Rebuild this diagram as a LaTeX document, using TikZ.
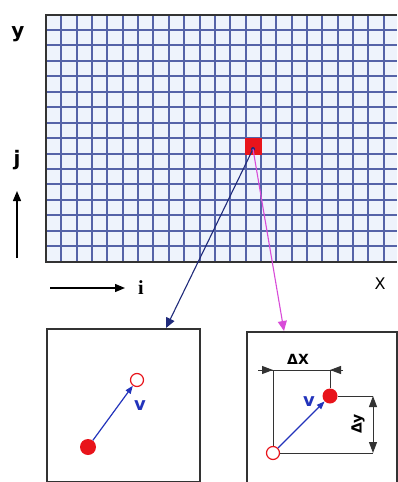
\documentclass[tikz,border=0pt]{standalone}
\usepackage{fontspec}
\setmainfont{DejaVu Sans}
\newfontfamily\serifb{Liberation Serif}
\usetikzlibrary{arrows.meta}
\definecolor{gridline}{HTML}{5563A8}
\definecolor{cellbg}{HTML}{EEF3FC}
\definecolor{frame}{HTML}{333333}
\definecolor{navy}{HTML}{1F2A7A}
\definecolor{mag}{HTML}{D84BD8}
\definecolor{vblue}{HTML}{2233BB}
\definecolor{dotred}{HTML}{E8141B}
\begin{document}
\begin{tikzpicture}[x=1pt,y=-1pt,
  gl/.style={gridline, line width=1.8},
  boxframe/.style={draw=frame, line width=1.5, inner sep=0, anchor=north west},
  fulldot/.style={circle, fill=dotred, inner sep=0, minimum size=15},
  opendot/.style={circle, draw=dotred, fill=white, line width=1.2, inner sep=0, minimum size=13},
  vec/.style={vblue, line width=1.2, -{Triangle[length=8,width=6]}},
  dim/.style={frame, line width=1},
  dimtip/.style={-{Triangle[length=11,width=8]}},
  axislbl/.style={font=\bfseries\fontsize{20}{20}\selectfont, inner sep=0},
  vlbl/.style={text=vblue, font=\bfseries\fontsize{18}{18}\selectfont, inner sep=0},
  dimlbl/.style={font=\bfseries\fontsize{14}{14}\selectfont, inner sep=0},
  axarrow/.style={line width=1.3, -{Triangle[length=10,width=8]}}
]
\useasboundingbox (0,0) rectangle (397,482);
% grid
\fill[cellbg] (46,14.5) rectangle (397,261.7);
\foreach \k in {1,...,23} {
  \pgfmathsetmacro{\xx}{round(46+\k*15.35)}
  \draw[gl] (\xx,14.5) -- (\xx,261.7);
}
\foreach \k in {1,...,15} {
  \pgfmathsetmacro{\yy}{round(14.5+\k*15.45)}
  \draw[gl] (46,\yy) -- (397,\yy);
}
\draw[frame, line width=2] (397,15) -- (46,15) -- (46,262) -- (397,262);
% red cell
\node[fill=dotred, minimum size=17, inner sep=0, anchor=north west] (cell) at (245,137.5) {};
\coordinate (src) at (253,149);
\fill[navy] (src) circle (2);
% axis labels
\node[axislbl] (ly) at (18,34) {y};
\node[axislbl] (lj) at (17,160) {j};
\coordinate (jbot) at (17,258);
\coordinate (jtop) at (17,191);
\draw[axarrow] (jbot) -- (jtop);
\coordinate (ileft) at (50,288);
\coordinate (iright) at (125,288);
\draw[axarrow] (ileft) -- (iright);
\node[font=\serifb\bfseries\fontsize{20}{20}\selectfont, inner sep=0] (li) at (141,288) {i};
\node[font=\fontsize{16}{16}\selectfont, inner sep=0] (lx) at (380,284) {X};
% boxes
\node[boxframe, minimum width=153, minimum height=153] (lbox) at (46,328) {};
\node[boxframe, minimum width=150, minimum height=151] (rbox) at (246,331) {};
% connectors
\coordinate (ltip) at (166,328);
\coordinate (rtip) at (284,331);
\draw[navy, line width=1.1, -{Triangle[length=10,width=9]}] (src) -- (ltip);
\draw[mag, line width=1.1, -{Triangle[length=10,width=9]}] (src) -- (rtip);
% left box content
\node[fulldot, minimum size=16] (a1) at (88,447) {};
\node[opendot] (a2) at (137,380) {};
\draw[vec] (a1) -- (a2);
\node[vlbl] (lv) at (140,406) {v};
% right box content
\node[opendot] (b1) at (273,453) {};
\node[fulldot] (b2) at (330,396) {};
\draw[vec] (b1) -- (b2);
\node[vlbl] (rv) at (309,402) {v};
\coordinate (dxl) at (273,370);
\coordinate (dxr) at (330,370);
\coordinate (dxll) at (258,370);
\coordinate (dxrr) at (343,370);
\coordinate (dyt) at (373,396);
\coordinate (dyb) at (373,453);
\draw[dim] (b1.north) -- (dxl);
\draw[dim] (b2.north) -- (dxr);
\draw[dim] (b1.east) -- (dyb);
\draw[dim] (b2.east) -- (dyt);
\draw[dim] (dxll) -- (dxrr);
\draw[dim, dimtip] (dxll) -- (dxl);
\draw[dim, dimtip] (dxrr) -- (dxr);
\draw[dim, {Triangle[length=11,width=8]}-{Triangle[length=11,width=8]}] (dyt) -- (dyb);
\node[dimlbl] (ldx) at (298,359) {ΔX};
\node[dimlbl, rotate=90] (ldy) at (358,424) {Δy};
\end{tikzpicture}
\end{document}
